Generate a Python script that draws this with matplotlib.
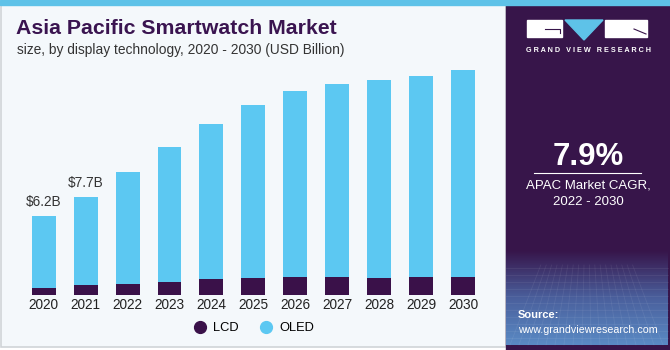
import numpy as np
import matplotlib
matplotlib.use("Agg")
import matplotlib.pyplot as plt
from matplotlib.lines import Line2D
from matplotlib.patches import Rectangle, Polygon
from matplotlib.colors import LinearSegmentedColormap

plt.rcParams['font.family'] = ['Liberation Sans', 'DejaVu Sans']

# Data (USD Billion)
years = ["2020", "2021", "2022", "2023", "2024", "2025", "2026", "2027", "2028", "2029", "2030"]
totals = [6.2, 7.7, 9.62, 11.58, 13.39, 14.9, 16.0, 16.55, 16.89, 17.2, 17.65]
lcd = [0.57, 0.78, 0.86, 1.04, 1.23, 1.35, 1.44, 1.44, 1.36, 1.39, 1.44]
oled = [t - l for t, l in zip(totals, lcd)]
labels = {0: "$6.2B", 1: "$7.7B"}

LCD_COLOR = "#3a1149"
OLED_COLOR = "#5cc8f2"
PANEL = "#37154a"
BG = "#f4f8fb"

W, H = 670, 350
fig = plt.figure(figsize=(W / 100, H / 100), dpi=100)

# background / decoration axes in pixel coords
bg = fig.add_axes([0, 0, 1, 1], zorder=0)
bg.set_xlim(0, W)
bg.set_ylim(H, 0)
bg.axis("off")
bg.add_patch(Rectangle((0, 0), W, H, color="white"))
bg.add_patch(Rectangle((1, 4), 505, 343, facecolor=BG, edgecolor="#d0d4d8", lw=1.2))
bg.add_patch(Rectangle((506, 4), 164, 346, color=PANEL))
# bottom gradient of panel
grad = np.linspace(0, 1, 100).reshape(-1, 1)
cmap = LinearSegmentedColormap.from_list("g", [PANEL, "#4a5f9c", "#5a8ac4"])
bg.imshow(grad, extent=(506, 668, 345, 250), cmap=cmap, aspect="auto", zorder=1)
for yy in np.arange(268, 345, 7):
    bg.plot([506, 668], [yy, yy], color="white", alpha=0.07, lw=0.6, zorder=2)
for xx in np.arange(510, 668, 9):
    bg.plot([xx, 587 + (xx - 587) * 0.6], [345, 265], color="white", alpha=0.07, lw=0.6, zorder=2)
bg.add_patch(Rectangle((0, 0), W, 4.5, color="#5ec2e8", zorder=3))

# logo
bg.add_patch(Rectangle((527, 20), 35, 17, color="white", zorder=3))
bg.add_patch(Rectangle((605, 20), 42, 17, color="white", zorder=3))
bg.add_patch(Polygon([(565, 20), (603, 20), (584, 40)], color="#5ec2e8", zorder=3))
bg.plot([545, 560, 560], [29, 29, 33], color=PANEL, lw=0.8, zorder=4)
bg.plot([634, 646], [29, 34], color=PANEL, lw=0.8, zorder=4)
bg.text(588, 51, "G R A N D   V I E W   R E S E A R C H", color="white", fontsize=5.2, fontweight="bold",
        ha="center", va="center", zorder=4)

bg.text(588, 157, "7.9%", color="white", fontsize=22.5, fontweight="bold", ha="center", va="center", zorder=4)
bg.plot([534, 641], [173, 173], color="white", lw=0.8, zorder=4)
bg.text(588, 186, "APAC Market CAGR,", color="white", fontsize=9.5, ha="center", va="center", zorder=4)
bg.text(588, 202, "2022 - 2030", color="white", fontsize=9.5, ha="center", va="center", zorder=4)
bg.text(518, 315, "Source:", color="white", fontsize=8, fontweight="bold", ha="left", va="center", zorder=4)
bg.text(518, 330, "www.grandviewresearch.com", color="white", fontsize=7.7, ha="left", va="center", zorder=4)

# titles
bg.text(16, 29, "Asia Pacific Smartwatch Market", color="#3a1450", fontsize=15.3, fontweight="black",
        ha="left", va="center", zorder=4)
bg.text(17, 50, "size, by display technology, 2020 - 2030 (USD Billion)", color="#333333", fontsize=9.9,
        ha="left", va="center", zorder=4)

# chart axes
step = 41.93
left_px = 43.7 - 0.5 * step
ax = fig.add_axes([left_px / W, 1 - 295 / H, 11 * step / W, 235 / H], zorder=1)
ax.patch.set_alpha(0)
x = np.arange(len(years))
ax.bar(x, lcd, width=0.57, color=LCD_COLOR)
ax.bar(x, oled, width=0.57, bottom=lcd, color=OLED_COLOR)
for i, lab in labels.items():
    ax.annotate(lab, (x[i], totals[i]), xytext=(0, 5), textcoords="offset points",
                ha="center", va="bottom", fontsize=9.8, color="#333333")
ax.set_xlim(-0.5, len(years) - 0.5)
ax.set_ylim(0, 235 / 12.75)
ax.set_xticks(x)
ax.set_xticklabels(years, fontsize=9.8, color="#222222")
ax.tick_params(axis="x", length=0, pad=2)
ax.set_yticks([])
for s in ax.spines.values():
    s.set_visible(False)

handles = [Line2D([], [], marker="o", ls="", color=LCD_COLOR, markersize=8.5),
           Line2D([], [], marker="o", ls="", color=OLED_COLOR, markersize=8.5)]
fig.legend(handles, ["LCD", "OLED"], loc="center", bbox_to_anchor=(254 / W, 1 - 328 / H), ncol=2,
           frameon=False, fontsize=9.3, handletextpad=0.5, columnspacing=1.6, handlelength=1)

fig.savefig("out.png", dpi=100)
